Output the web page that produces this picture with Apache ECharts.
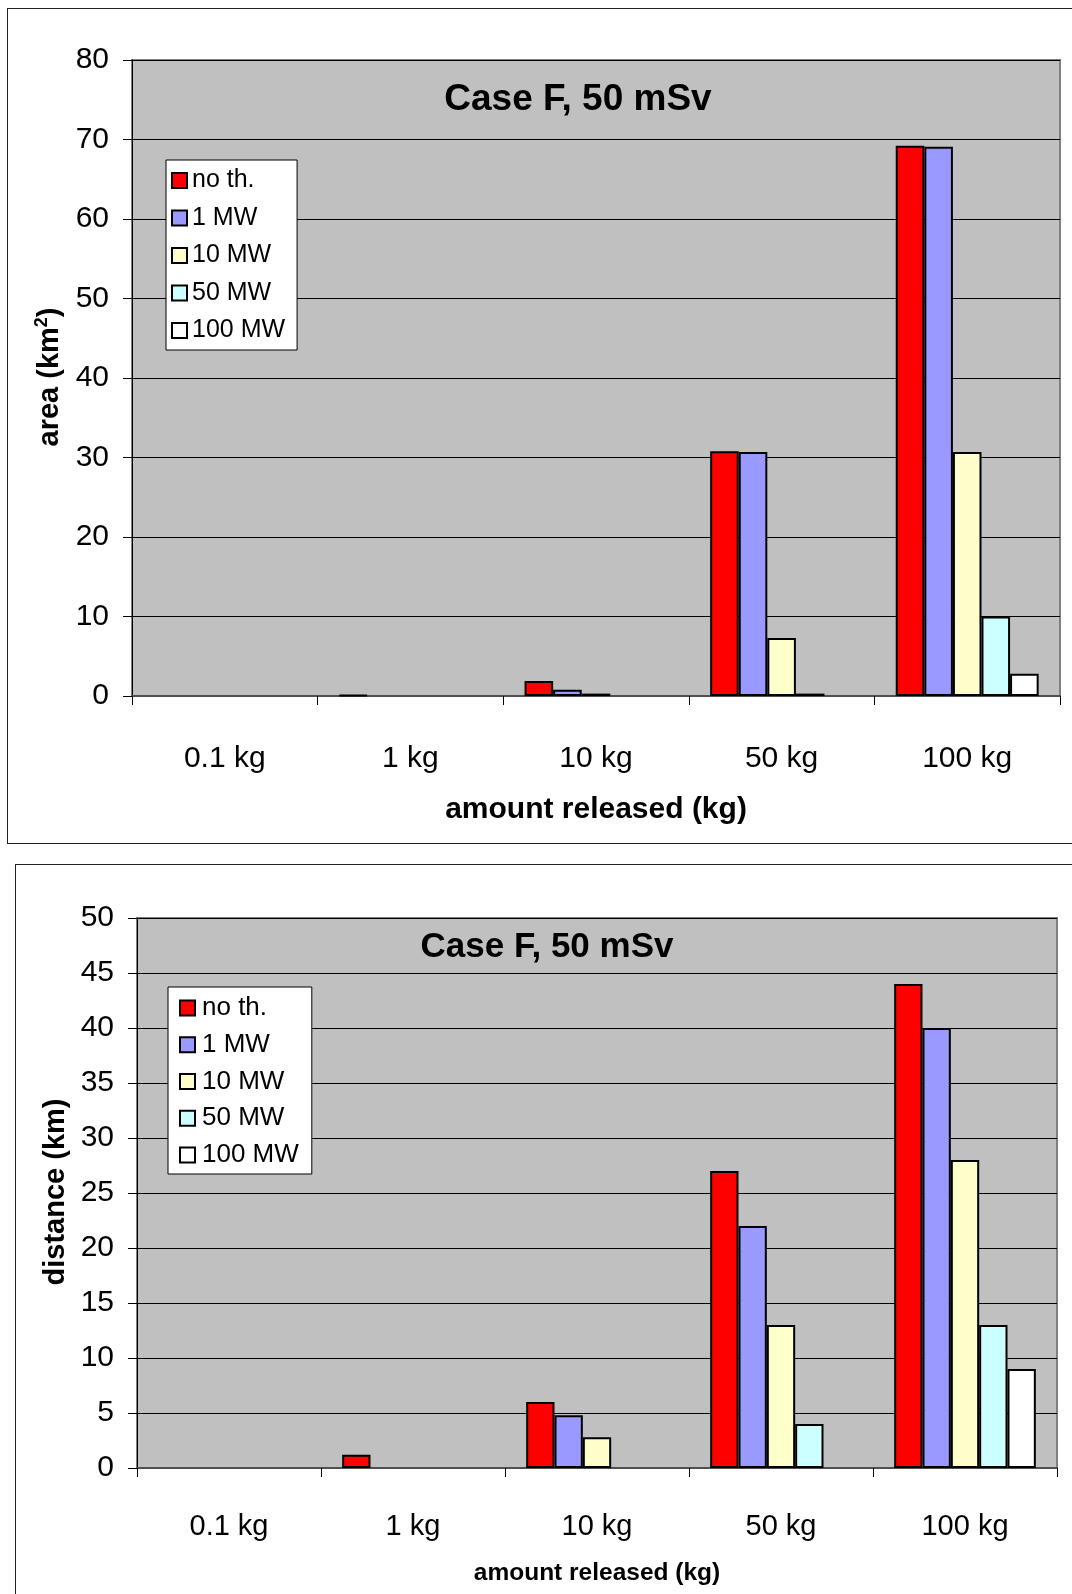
<!DOCTYPE html>
<html>
<head>
<meta charset="utf-8">
<script src="https://cdn.jsdelivr.net/npm/echarts@6/dist/echarts.min.js"></script>
<style>
  html, body { margin: 0; padding: 0; background: #fff; width: 1072px; height: 1594px; overflow: hidden; position: relative; }
  .frame { position: absolute; border: 1.5px solid #222; box-sizing: border-box; }
  .chart { position: absolute; left: 0; }
</style>
</head>
<body>
<div class="frame" style="left:7px; top:8px; width:1080px; height:836px;"></div>
<div class="frame" style="left:15px; top:864px; width:1080px; height:760px;"></div>
<div id="c1" class="chart" style="top:0; width:1072px; height:850px;"></div>
<div id="c2" class="chart" style="top:850px; width:1072px; height:744px;"></div>
<script>
// ---- data ----
const categories = ['0.1 kg', '1 kg', '10 kg', '50 kg', '100 kg'];
const seriesNames = ['no th.', '1 MW', '10 MW', '50 MW', '100 MW'];
const seriesColors = ['#FF0000', '#9999FF', '#FFFFCC', '#CCFFFF', '#FFFFFF'];

// top chart: area (km^2)
const areaNoTh  = [0, 0.1, 1.9, 30.8, 69.2];
const area1MW   = [0, 0,   0.8, 30.7, 69.1];
const area10MW  = [0, 0,   0.3, 7.3,  30.7];
const area50MW  = [0, 0,   0,   0.3,  10.0];
const area100MW = [0, 0,   0,   0,    2.8];
const areaTicks = { min: 0, max: 80, interval: 10 };

// bottom chart: distance (km)
const distNoTh  = [0, 1.2, 6.0, 27, 44];
const dist1MW   = [0, 0,   4.8, 22, 40];
const dist10MW  = [0, 0,   2.8, 13, 28];
const dist50MW  = [0, 0,   0,   4,  13];
const dist100MW = [0, 0,   0,   0,  9];
const distTicks = { min: 0, max: 50, interval: 5 };

const FONT = "'Liberation Sans', Arial, sans-serif";

function buildOption(cfg) {
  const seriesData = cfg.data;
  return {
    animation: false,
    textStyle: { fontFamily: FONT },
    grid: {
      left: cfg.grid.left, top: cfg.grid.top, width: cfg.grid.width, height: cfg.grid.height,
      show: true, backgroundColor: '#C0C0C0', borderColor: '#808080', borderWidth: 2
    },
    legend: {
      orient: 'vertical',
      left: cfg.legend.left, top: cfg.legend.top,
      padding: cfg.legend.padding,
      backgroundColor: '#FFFFFF', borderColor: '#000', borderWidth: 1,
      itemWidth: 15, itemHeight: 15, itemGap: cfg.legend.itemGap,
      icon: 'rect',
      itemStyle: { borderColor: '#000', borderWidth: 2 },
      textStyle: { fontFamily: FONT, fontSize: cfg.legend.fontSize, lineHeight: cfg.legend.fontSize, color: '#000', padding: cfg.legend.textPad },
      data: seriesNames
    },
    xAxis: {
      type: 'category', data: categories,
      axisLine: { lineStyle: { color: '#505050', width: 2 } },
      axisTick: { show: true, length: 9, alignWithLabel: false, lineStyle: { color: '#000', width: 1 } },
      axisLabel: { fontFamily: FONT, fontSize: cfg.xLabelSize, color: '#000', margin: cfg.xLabelMargin },
      splitLine: { show: false }
    },
    yAxis: {
      type: 'value', min: cfg.ticks.min, max: cfg.ticks.max, interval: cfg.ticks.interval,
      axisLine: { show: true, lineStyle: { color: '#000', width: 1 } },
      axisTick: { show: true, length: 9, lineStyle: { color: '#000', width: 1 } },
      axisLabel: { fontFamily: FONT, fontSize: 30, color: '#000', margin: 23 },
      splitLine: { show: true, lineStyle: { color: '#000', width: 1 } }
    },
    series: seriesNames.map((n, i) => ({
      name: n, type: 'bar',
      data: seriesData[i].map(v => v === 0 ? { value: v, itemStyle: { borderWidth: 0 } } : v),
      barGap: '0%', barCategoryGap: '23%',
      itemStyle: { color: seriesColors[i], borderColor: '#000', borderWidth: 2 }
    })),
    graphic: cfg.graphic
  };
}

const c1 = echarts.init(document.getElementById('c1'), null, { renderer: 'canvas' });
c1.setOption(buildOption({
  data: [areaNoTh, area1MW, area10MW, area50MW, area100MW],
  ticks: areaTicks,
  grid: { left: 132, top: 60, width: 928, height: 636 },
  legend: { left: 166, top: 160, padding: [8, 12, 7, 5], itemGap: 12.5, fontSize: 25, textPad: [0, 0, 0, 0] },
  xLabelSize: 30, xLabelMargin: 48,
  graphic: [
    { type: 'text', x: 578, y: 100, z: 100,
      style: { text: 'Case F, 50 mSv', font: "bold 37px " + FONT, fill: '#000', textAlign: 'center', textVerticalAlign: 'middle' } },
    { type: 'text', x: 596, y: 810, z: 100,
      style: { text: 'amount released (kg)', font: "bold 30px " + FONT, fill: '#000', textAlign: 'center', textVerticalAlign: 'middle' } },
    { type: 'text', x: 50, y: 377, rotation: Math.PI / 2, z: 100,
      style: { text: '{a|area (km}{b|2}{a|)}', textAlign: 'center', textVerticalAlign: 'middle', fill: '#000',
        rich: { a: { fontFamily: FONT, fontWeight: 'bold', fontSize: 29, lineHeight: 34 },
                b: { fontFamily: FONT, fontWeight: 'bold', fontSize: 18, lineHeight: 34, padding: [0, 0, 16, 0] } } } }
  ]
}));

const c2 = echarts.init(document.getElementById('c2'), null, { renderer: 'canvas' });
c2.setOption(buildOption({
  data: [distNoTh, dist1MW, dist10MW, dist50MW, dist100MW],
  ticks: distTicks,
  grid: { left: 137, top: 68, width: 920, height: 550 },
  legend: { left: 168, top: 137, padding: [8, 13, 6, 11], itemGap: 10.75, fontSize: 26, textPad: [0, 0, 0, 2] },
  xLabelSize: 29, xLabelMargin: 44,
  graphic: [
    { type: 'text', x: 547, y: 97, z: 100,
      style: { text: 'Case F, 50 mSv', font: "bold 35px " + FONT, fill: '#000', textAlign: 'center', textVerticalAlign: 'middle' } },
    { type: 'text', x: 597, y: 723, z: 100,
      style: { text: 'amount released (kg)', font: "bold 24.5px " + FONT, fill: '#000', textAlign: 'center', textVerticalAlign: 'middle' } },
    { type: 'text', x: 56, y: 342, rotation: Math.PI / 2, z: 100,
      style: { text: 'distance (km)', font: "bold 29px " + FONT, fill: '#000', textAlign: 'center', textVerticalAlign: 'middle' } }
  ]
}));
</script>
</body>
</html>
